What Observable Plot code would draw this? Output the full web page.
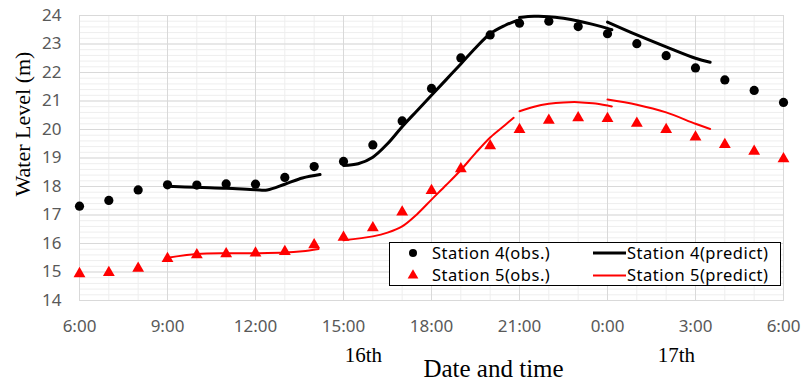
<!DOCTYPE html>
<html><head><meta charset="utf-8">
<script src="https://cdn.jsdelivr.net/npm/d3@7"></script>
<script src="https://cdn.jsdelivr.net/npm/@observablehq/plot@0.6"></script>
<style>body{margin:0;background:#fff}</style>
</head><body><div id="chart"></div>
<script>
// hours since 6:00 on the 16th
const hours = [0,1,2,3,4,5,6,7,8,9,10,11,12,13,14,15,16,17,18,19,20,21,22,23,24];
const tickHours = [0,3,6,9,12,15,18,21,24];
const tickLabels = ["6:00","9:00","12:00","15:00","18:00","21:00","0:00","3:00","6:00"];
const yTicks = [14,15,16,17,18,19,20,21,22,23,24];
const station4Obs = [17.31,17.51,17.88,18.06,18.05,18.09,18.08,18.32,18.70,18.88,19.46,20.30,21.44,22.51,23.32,23.73,23.80,23.61,23.36,23.01,22.59,22.16,21.74,21.37,20.95];
const station5Obs = [14.94,14.98,15.13,15.47,15.60,15.64,15.66,15.72,15.95,16.22,16.55,17.10,17.86,18.62,19.43,20.00,20.32,20.41,20.38,20.22,20.00,19.73,19.47,19.23,18.97];
const station4Pred = [
  [[3,18.01],[4,17.97],[5,17.94],[6,17.89],[6.4,17.88],[7,18.08],[7.6,18.30],[8.2,18.42]],
  [[9,18.74],[9.5,18.80],[10,19.03],[10.5,19.50],[11,20.10],[11.5,20.65],[12,21.20],[12.5,21.75],[13,22.30],[13.5,22.86],[14,23.36],[14.5,23.65],[14.9,23.82]],
  [[15,23.93],[15.5,23.97],[16,23.96],[16.5,23.90],[17,23.81],[17.5,23.69],[18,23.55],[18.15,23.50]],
  [[18,23.77],[19,23.32],[20,22.90],[21,22.50],[21.5,22.36]]
];
const station5Pred = [
  [[3,15.50],[4,15.63],[5,15.66],[6,15.66],[7,15.68],[7.6,15.73],[8.15,15.81]],
  [[9,16.11],[10,16.25],[10.5,16.38],[11,16.60],[11.5,17.02],[12,17.54],[12.5,18.05],[13,18.58],[13.5,19.17],[14,19.72],[14.5,20.15],[14.8,20.41]],
  [[15,20.64],[15.5,20.80],[16,20.90],[16.5,20.95],[17,20.96],[17.5,20.92],[18,20.84],[18.15,20.81]],
  [[18,21.05],[19,20.87],[20,20.60],[21,20.20],[21.5,20.02]]
];
const dateLabels = ["16th","17th"];
const dateHours = [9.68, 20.35];
const legendItems = ["Station 4(obs.)","Station 5(obs.)","Station 4(predict)","Station 5(predict)"];

const obs4 = hours.map((h,i)=>({h, v: station4Obs[i]}));
const obs5 = hours.map((h,i)=>({h, v: station5Obs[i]}));
const toRows = segs => segs.flatMap((s,k)=>s.map(([h,v])=>({h,v,seg:k})));
const pred4 = toRows(station4Pred);
const pred5 = toRows(station5Pred);
const dates = dateLabels.map((t,i)=>({t, h: dateHours[i]}));

const minorX = d3.range(0, 24.001, 1);
const minorY = d3.range(14, 24.001, 0.2);

const sans = "'Noto Sans', 'Open Sans', sans-serif";
const serif = "'Liberation Serif', 'Times New Roman', serif";

const chart = Plot.plot({
  width: 808, height: 383,
  marginLeft: 79, marginRight: 25, marginTop: 15, marginBottom: 83,
  style: {background: "#fff", fontFamily: sans},
  x: {domain: [0, 24], ticks: tickHours},
  y: {domain: [14, 24], ticks: yTicks},
  marks: [
    Plot.ruleX(minorX, {stroke: "#eeeeee", strokeWidth: 1}),
    Plot.ruleY(minorY, {stroke: "#eeeeee", strokeWidth: 1}),
    Plot.ruleX(tickHours, {stroke: "#d9d9d9", strokeWidth: 1}),
    Plot.ruleY(yTicks, {stroke: "#d9d9d9", strokeWidth: 1}),
    Plot.frame({stroke: "#d9d9d9"}),
    Plot.axisX({ticks: tickHours, tickSize: 0, tickPadding: 19, fontSize: 17, tickFormat: d => tickLabels[tickHours.indexOf(d)], fill: "#595959", label: null}),
    Plot.axisY({ticks: yTicks, tickSize: 0, tickPadding: 18, fontSize: 17, fill: "#595959", label: null}),
    Plot.line(pred4, {x: "h", y: "v", z: "seg", stroke: "black", strokeWidth: 3, curve: "catmull-rom"}),
    Plot.line(pred5, {x: "h", y: "v", z: "seg", stroke: "#ff0000", strokeWidth: 2, curve: "catmull-rom"}),
    Plot.dot(obs4, {x: "h", y: "v", r: 4.6, fill: "black", symbol: "circle"}),
    Plot.dot(obs5, {x: "h", y: "v", r: 4.4, fill: "#ff0000", symbol: "triangle"}),
    Plot.text(dates, {x: "h", text: "t", frameAnchor: "bottom", lineAnchor: "middle", dy: 55, fontSize: 21, fontFamily: serif, fill: "black"}),
    Plot.text(["Date and time"], {frameAnchor: "bottom", lineAnchor: "middle", textAnchor: "middle", dx: 62, dy: 68, fontSize: 25, fontFamily: serif, fill: "black"}),
    Plot.text(["Water Level (m)"], {frameAnchor: "left", textAnchor: "middle", lineAnchor: "middle", rotate: -90, dx: -57, dy: -34, fontSize: 22, fontFamily: serif, fill: "black"})
  ]
});
document.getElementById("chart").appendChild(chart);

// legend box (inside plot area, like the original)
const svg = d3.select(chart);
const g = svg.append("g").attr("font-family", sans).attr("font-size", 16.5).attr("letter-spacing", "0.5px").attr("text-anchor", "start");
g.append("rect").attr("x", 389.5).attr("y", 242.5).attr("width", 391).attr("height", 43).attr("fill", "white").attr("stroke", "black").attr("stroke-width", 1);
g.append("circle").attr("cx", 413).attr("cy", 253).attr("r", 4).attr("fill", "black");
g.append("path").attr("d", d3.symbol(d3.symbolTriangle, 50)()).attr("transform", "translate(413,275.5)").attr("fill", "#ff0000");
g.append("line").attr("x1", 593).attr("x2", 626).attr("y1", 253).attr("y2", 253).attr("stroke", "black").attr("stroke-width", 3);
g.append("line").attr("x1", 593).attr("x2", 626).attr("y1", 275.5).attr("y2", 275.5).attr("stroke", "#ff0000").attr("stroke-width", 2);
const lx = [432, 432, 627, 627], ly = [253, 275.5, 253, 275.5];
legendItems.forEach((t,i)=>{
  g.append("text").attr("x", lx[i]).attr("y", ly[i]).attr("dy", "0.35em").attr("text-anchor", "start").attr("fill", "black").text(t);
});
</script>
</body></html>
